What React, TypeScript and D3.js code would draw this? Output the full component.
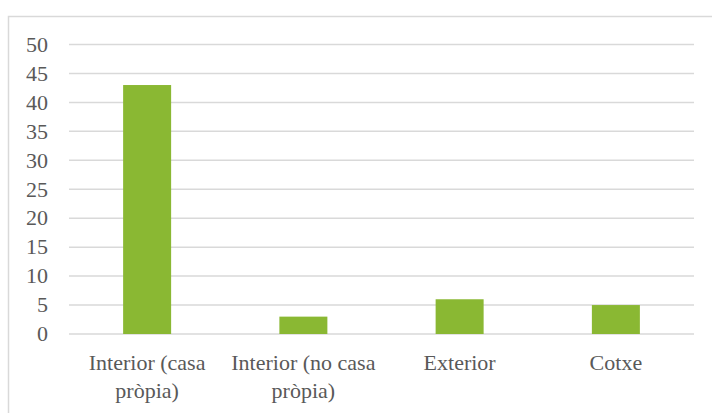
import React from "react";
import * as d3 from "d3";

const categories: string[][] = [
  ["Interior (casa", "pròpia)"],
  ["Interior (no casa", "pròpia)"],
  ["Exterior"],
  ["Cotxe"],
];
const values: number[] = [43, 3, 6, 5];
const yTicks: number[] = [0, 5, 10, 15, 20, 25, 30, 35, 40, 45, 50];

export default function App() {
  const W = 712, H = 413;
  const left = 69, right = 694, top = 44.5, bottom = 334;
  const x = d3.scaleBand<number>().domain(d3.range(values.length)).range([left, right]).paddingInner(0).paddingOuter(0);
  const y = d3.scaleLinear().domain([0, 50]).range([bottom, top]);
  const barW = 48;
  const textStyle = { fontFamily: "'Liberation Serif'", fontSize: "22px" };
  return (
    <svg width={W} height={H} style={{ position: "absolute", left: 0, top: 0, background: "#fff" }}>
      <rect x={8.5} y={16.5} width={W + 10} height={H + 10} fill="#fff" stroke="#d9d9d9" strokeWidth={1.5} />
      {yTicks.map((t) => (
        <g key={t}>
          <line x1={left} x2={right} y1={y(t)} y2={y(t)} stroke="#d9d9d9" strokeWidth={1.5} />
          <text x={48} y={y(t)} dy="0.33em" textAnchor="end" style={textStyle} fill="#595959">
            {t}
          </text>
        </g>
      ))}
      {values.map((v, i) => {
        const cx = (x(i) as number) + x.bandwidth() / 2;
        return (
          <rect key={i} x={cx - barW / 2} y={y(v)} width={barW} height={y(0) - y(v)} fill="#8ab833" />
        );
      })}
      {categories.map((lines, i) => {
        const cx = (x(i) as number) + x.bandwidth() / 2;
        return (
          <text key={i} textAnchor="middle" style={textStyle} fill="#595959">
            {lines.map((l, j) => (
              <tspan key={j} x={cx} y={370 + j * 28}>
                {l}
              </tspan>
            ))}
          </text>
        );
      })}
    </svg>
  );
}
